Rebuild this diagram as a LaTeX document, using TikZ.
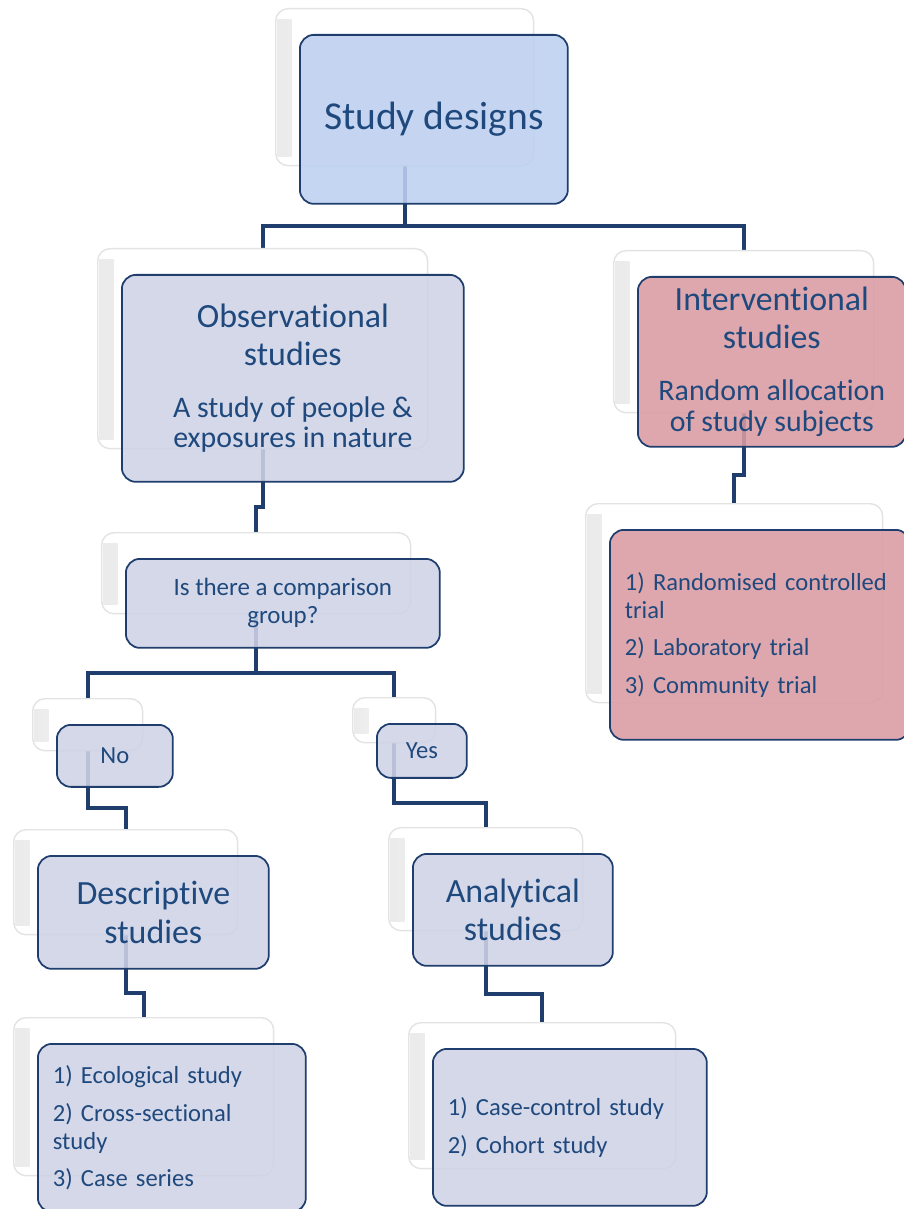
\documentclass[tikz,border=0pt]{standalone}
\usepackage{fontspec}
\setmainfont{Carlito}[RawFeature=-liga]
\usetikzlibrary{positioning,calc,backgrounds}
\definecolor{linknavy}{RGB}{31,62,110}
\definecolor{textnavy}{RGB}{31,73,125}
\definecolor{rootblue}{RGB}{189,208,240}
\definecolor{obslilac}{RGB}{207,211,230}
\definecolor{introse}{RGB}{218,155,163}
\newcommand{\subtxt}{\fontsize{17}{17}\selectfont}

\begin{document}
\begin{tikzpicture}[
    x=0.02cm, y=-0.02cm,
    backbox/.style={rectangle, rounded corners=7pt, draw=gray!22, fill=white,
                    line width=0.8pt, anchor=north west,
                    path picture={\shade[sharp corners, left color=gray!16, right color=white]
                        ([xshift=1pt, yshift=-6pt]path picture bounding box.north west) rectangle
                        ([xshift=0.32cm, yshift=5pt]path picture bounding box.south west);}},
    frontbox/.style={rectangle, rounded corners=8pt, draw=linknavy, fill=#1,
                     fill opacity=0.88, text opacity=1, text=textnavy,
                     line width=1pt, anchor=north west, align=center, inner sep=0pt},
    listbox/.style={frontbox=#1, align=left, inner xsep=0.3cm,
                    font=\fontsize{14}{16}\selectfont},
    titlefont/.style={font=\fontsize{19.3}{21.5}\selectfont},
    link/.style={draw=linknavy, line width=2.3pt}
]
\useasboundingbox (0,0) rectangle (903,1209);

\node[backbox, minimum width=5.16cm, minimum height=3.14cm] (designBack) at (275,8) {};
\node[frontbox=rootblue, minimum width=5.36cm, minimum height=3.38cm,
      font=\fontsize{22.5}{25}\selectfont] (design) at ([shift={(24,26)}]designBack.north west) {Study designs};

\node[backbox, minimum width=6.6cm, minimum height=4cm] (obsBack) at (97,248) {};
\node[frontbox=obslilac, titlefont, minimum width=6.84cm, minimum height=4.14cm]
    (obs) at ([shift={(24,26)}]obsBack.north west) {
    Observational\\studies\\[8pt]\subtxt A study of people \&\\[-4.5pt]\subtxt exposures in nature
};

\node[backbox, minimum width=5.2cm, minimum height=3.24cm] (intBack) at (613,250) {};
\node[frontbox=introse, titlefont, minimum width=5.36cm, minimum height=3.4cm]
    (int) at ([shift={(24,26)}]intBack.north west) {
    Interventional\\studies\\[8pt]\subtxt Random allocation\\[-3.9pt]\subtxt of study subjects
};

\node[backbox, minimum width=5.94cm, minimum height=3.98cm] (trialBack) at (585,503) {};
\node[listbox=introse, text width=5.4cm, minimum height=4.2cm]
    (trial) at ([shift={(24,26)}]trialBack.north west) {
    1) Randomised controlled\\trial\\[5.5pt]2) Laboratory trial\\[5.5pt]3) Community trial
};

\node[backbox, minimum width=6.18cm, minimum height=1.62cm] (compBack) at (101,532) {};
\node[frontbox=obslilac, minimum width=6.28cm, minimum height=1.78cm,
      font=\fontsize{14.2}{15.9}\selectfont] (comp) at ([shift={(24,26)}]compBack.north west) {
    Is there a comparison\\group?
};

\node[backbox, minimum width=2.2cm, minimum height=1.04cm] (noBack) at (32,698) {};
\node[frontbox=obslilac, minimum width=2.32cm, minimum height=1.24cm,
      font=\fontsize{14}{16}\selectfont] (no) at ([shift={(24,26)}]noBack.north west) {No};

\node[backbox, minimum width=1.66cm, minimum height=0.9cm] (yesBack) at (352,697) {};
\node[frontbox=obslilac, minimum width=1.8cm, minimum height=1.08cm,
      font=\fontsize{14}{16}\selectfont] (yes) at ([shift={(24,26)}]yesBack.north west) {Yes};

\node[backbox, minimum width=4.48cm, minimum height=2.1cm] (descBack) at (13,829) {};
\node[frontbox=obslilac, font=\fontsize{19.3}{22}\selectfont, minimum width=4.62cm,
      minimum height=2.26cm] (desc) at ([shift={(24,26)}]descBack.north west) {Descriptive\\studies};

\node[backbox, minimum width=3.88cm, minimum height=2.06cm] (analBack) at (388,827) {};
\node[frontbox=obslilac, font=\fontsize{19.3}{22}\selectfont, minimum width=4cm,
      minimum height=2.24cm] (anal) at ([shift={(24,26)}]analBack.north west) {Analytical\\studies};

\node[backbox, minimum width=5.2cm, minimum height=3.16cm] (descListBack) at (13,1017) {};
\node[listbox=obslilac, text width=4.76cm, minimum height=3.36cm]
    (descList) at ([shift={(24,26)}]descListBack.north west) {
    1) Ecological study\\[5.5pt]2) Cross-sectional\\study\\[5.5pt]3) Case series
};

\node[backbox, minimum width=5.34cm, minimum height=2.92cm] (analListBack) at (408,1022) {};
\node[listbox=obslilac, text width=4.88cm, minimum height=3.14cm]
    (analList) at ([shift={(24,26)}]analListBack.north west) {
    1) Case-control study\\[5.5pt]2) Cohort study
};

\begin{scope}[on background layer]
\coordinate (m1) at ($(design.south)!0.5!(obsBack.north)$);
\draw[link] (designBack.south) |- (obsBack.north |- m1) -- (obsBack.north);
\draw[link] (designBack.south) |- (intBack.north |- m1) -- (intBack.north);

\coordinate (m2) at ($(int.south)!0.5!(trialBack.north)$);
\draw[link] (intBack.south) |- (trialBack.north |- m2) -- (trialBack.north);

\coordinate (m3) at ($(obs.south)!0.5!(compBack.north)$);
\draw[link] (obsBack.south) |- (compBack.north |- m3) -- (compBack.north);

\coordinate (m4) at ($(comp.south)!0.5!(noBack.north)$);
\draw[link] (compBack.south) |- (noBack.north |- m4) -- (noBack.north);
\draw[link] (compBack.south) |- (yesBack.north |- m4) -- (yesBack.north);

\coordinate (m5) at ($(no.south)!0.5!(descBack.north)$);
\draw[link] (noBack.south) |- (descBack.north |- m5) -- (descBack.north);
\coordinate (m6) at ($(yes.south)!0.5!(analBack.north)$);
\draw[link] (yesBack.south) |- (analBack.north |- m6) -- (analBack.north);

\coordinate (m7) at ($(desc.south)!0.5!(descListBack.north)$);
\draw[link] (descBack.south) |- (descListBack.north |- m7) -- (descListBack.north);
\coordinate (m8) at ($(anal.south)!0.5!(analListBack.north)$);
\draw[link] (analBack.south) |- (analListBack.north |- m8) -- (analListBack.north);
\end{scope}

\end{tikzpicture}
\end{document}
